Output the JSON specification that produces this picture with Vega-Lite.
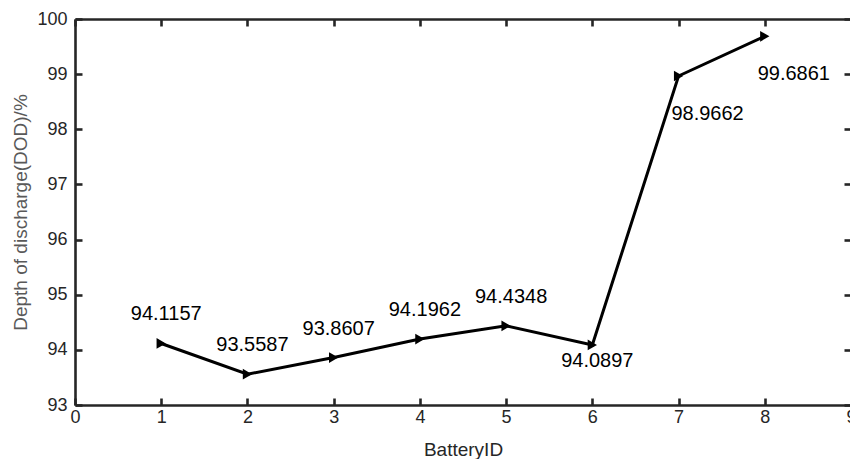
{
  "$schema": "https://vega.github.io/schema/vega-lite/v6.json",
  "autosize": {"type": "none"},
  "width": 776,
  "height": 386,
  "padding": {"left": 75, "top": 19, "right": 0, "bottom": 54},
  "background": "white",
  "config": {
    "font": "Liberation Sans",
    "view": {"stroke": null},
    "axis": {
      "grid": false,
      "domainColor": "#262626",
      "domainWidth": 2.6,
      "tickColor": "#262626",
      "tickWidth": 2.6,
      "tickSize": -7,
      "labelColor": "#262626",
      "labelFont": "Liberation Sans",
      "labelFontSize": 18,
      "titleFont": "Liberation Sans",
      "titleFontWeight": "normal",
      "titleFontSize": 19
    }
  },
  "data": {
    "values": [
      {"battery": 1, "dod": 94.1157},
      {"battery": 2, "dod": 93.5587},
      {"battery": 3, "dod": 93.8607},
      {"battery": 4, "dod": 94.1962},
      {"battery": 5, "dod": 94.4348},
      {"battery": 6, "dod": 94.0897},
      {"battery": 7, "dod": 98.9662},
      {"battery": 8, "dod": 99.6861}
    ]
  },
  "layer": [
    {
      "mark": {"type": "line", "color": "black", "strokeWidth": 3, "point": {"shape": "triangle-right", "filled": true, "color": "black", "size": 115}},
      "encoding": {
        "x": {
          "field": "battery", "type": "quantitative",
          "scale": {"domain": [0, 9], "nice": false, "zero": false},
          "axis": {"title": "BatteryID", "values": [0, 1, 2, 3, 4, 5, 6, 7, 8, 9], "labelPadding": 10, "titlePadding": 14, "titleColor": "#262626", "labelFlush": false}
        },
        "y": {
          "field": "dod", "type": "quantitative",
          "scale": {"domain": [93, 100], "nice": false, "zero": false},
          "axis": {"title": "Depth of discharge(DOD)/%", "values": [93, 94, 95, 96, 97, 98, 99, 100], "labelPadding": 15, "titlePadding": 6, "titleColor": "#595959"}
        }
      }
    },
    {
      "mark": {"type": "rule", "opacity": 0},
      "encoding": {
        "x": {
          "field": "battery", "type": "quantitative",
          "axis": {"orient": "top", "title": null, "labels": false, "values": [0, 1, 2, 3, 4, 5, 6, 7, 8, 9]}
        },
        "y": {
          "field": "dod", "type": "quantitative",
          "axis": {"orient": "right", "title": null, "labels": false, "values": [93, 94, 95, 96, 97, 98, 99, 100]}
        }
      }
    },
    {
      "transform": [{"filter": "datum.battery <= 5"}],
      "mark": {"type": "text", "fontSize": 20, "color": "black", "dx": 5, "dy": -29},
      "encoding": {
        "x": {"field": "battery", "type": "quantitative", "axis": null},
        "y": {"field": "dod", "type": "quantitative", "axis": null},
        "text": {"field": "dod", "type": "quantitative", "format": ".4f"}
      }
    },
    {
      "transform": [{"filter": "datum.battery == 6"}],
      "mark": {"type": "text", "fontSize": 20, "color": "black", "dx": 5, "dy": 16},
      "encoding": {
        "x": {"field": "battery", "type": "quantitative", "axis": null},
        "y": {"field": "dod", "type": "quantitative", "axis": null},
        "text": {"field": "dod", "type": "quantitative", "format": ".4f"}
      }
    },
    {
      "transform": [{"filter": "datum.battery >= 7"}],
      "mark": {"type": "text", "fontSize": 20, "color": "black", "dx": 29, "dy": 38},
      "encoding": {
        "x": {"field": "battery", "type": "quantitative", "axis": null},
        "y": {"field": "dod", "type": "quantitative", "axis": null},
        "text": {"field": "dod", "type": "quantitative", "format": ".4f"}
      }
    }
  ],
  "resolve": {"axis": {"x": "independent", "y": "independent"}}
}
